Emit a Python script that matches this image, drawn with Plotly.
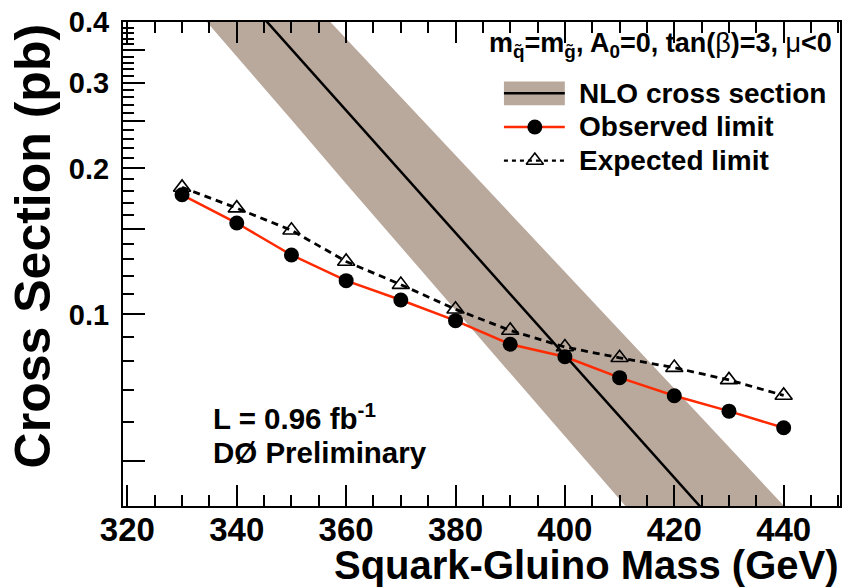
import numpy as np
import plotly.graph_objects as go

# Squark-gluino mass points (GeV)
mass = [330, 340, 350, 360, 370, 380, 390, 400, 410, 420, 430, 440]
observed = [0.1764, 0.1543, 0.1326, 0.1174, 0.1071, 0.0971, 0.0868, 0.0818, 0.0741, 0.0680, 0.0632, 0.0584]
expected = [0.1827, 0.1656, 0.1491, 0.1286, 0.1152, 0.1025, 0.0927, 0.0857, 0.0814, 0.0777, 0.0733, 0.0681]

# NLO theory prediction with its uncertainty band
nlo_mass = [320, 330, 340, 350, 360, 370, 380, 390, 400, 410, 420, 430, 440, 450]
nlo_xsec = [0.841, 0.629, 0.471, 0.352, 0.263, 0.197, 0.147, 0.110, 0.0824, 0.0616, 0.0461, 0.0345, 0.0258, 0.0193]
nlo_high = [1.118, 0.848, 0.643, 0.487, 0.371, 0.281, 0.213, 0.162, 0.1225, 0.0928, 0.0704, 0.0533, 0.0404, 0.0306]
nlo_low = [0.619, 0.458, 0.340, 0.252, 0.186, 0.138, 0.102, 0.0757, 0.0561, 0.0416, 0.0308, 0.0228, 0.0169, 0.0125]

x_major = [320, 340, 360, 380, 400, 420, 440]
x_minor = [v for v in range(320, 451, 5) if v not in x_major]
y_major = [0.05, 0.1, 0.15, 0.2, 0.25, 0.3, 0.35, 0.4]
y_major_text = ["", "0.1", "", "0.2", "", "0.3", "", "0.4"]
y_minor = [round(0.04 + 0.01 * i, 2) for i in range(0, 37)]
y_minor = [v for v in y_minor if v not in y_major]

FONT = "Liberation Sans, Arial, Helvetica, sans-serif"
BAND = "#b9a89c"
RED = "#ff2a00"

fig = go.Figure()

fig.add_trace(go.Scatter(
    x=nlo_mass + nlo_mass[::-1], y=nlo_high + nlo_low[::-1],
    fill="toself", fillcolor=BAND, line=dict(width=0), mode="lines",
    hoverinfo="skip", showlegend=False))
fig.add_trace(go.Scatter(
    x=nlo_mass, y=nlo_xsec, mode="lines",
    line=dict(color="black", width=2.5), showlegend=False))
fig.add_trace(go.Scatter(
    x=mass, y=expected, mode="lines+markers",
    line=dict(color="black", width=2.8, dash="7px,5px"),
    marker=dict(symbol="triangle-up-open", size=15, color="black", line=dict(width=1.6)),
    showlegend=False))
fig.add_trace(go.Scatter(
    x=mass, y=observed, mode="lines+markers",
    line=dict(color=RED, width=2.5),
    marker=dict(symbol="circle", size=15, color="black"),
    showlegend=False))

# Legend glyphs drawn on an overlay axis spanning the plot area (0..1)
lx0, lx1, lxc = 0.5313, 0.6162, 0.5744
ly_nlo, ly_obs, ly_exp = 0.8528, 0.7832, 0.7137
fig.add_shape(type="rect", xref="paper", yref="paper", x0=lx0, x1=lx1,
              y0=0.8282, y1=0.8773, fillcolor=BAND, line=dict(width=0), layer="above")
fig.add_shape(type="line", xref="paper", yref="paper", x0=lx0, x1=lx1,
              y0=ly_nlo, y1=ly_nlo, line=dict(color="black", width=2.5))
fig.add_trace(go.Scatter(
    x=[lx0, lxc, lx1], y=[ly_obs] * 3, xaxis="x2", yaxis="y2", mode="lines",
    line=dict(color=RED, width=2.5), showlegend=False, hoverinfo="skip"))
fig.add_trace(go.Scatter(
    x=[lxc], y=[ly_obs], xaxis="x2", yaxis="y2", mode="markers",
    marker=dict(symbol="circle", size=15, color="black"), showlegend=False, hoverinfo="skip"))
fig.add_trace(go.Scatter(
    x=[lx0, lx1], y=[ly_exp] * 2, xaxis="x2", yaxis="y2", mode="lines",
    line=dict(color="black", width=2.2, dash="4px,4px"), showlegend=False, hoverinfo="skip"))
fig.add_trace(go.Scatter(
    x=[lxc], y=[ly_exp], xaxis="x2", yaxis="y2", mode="markers",
    marker=dict(symbol="triangle-up-open", size=15, color="black", line=dict(width=1.6)),
    showlegend=False, hoverinfo="skip"))

legend_font = dict(family=FONT, size=28, color="black", weight="bold")
for label, yy in [("NLO cross section", ly_nlo), ("Observed limit", ly_obs), ("Expected limit", ly_exp)]:
    fig.add_annotation(xref="paper", yref="paper", x=0.6328, y=yy, text=label,
                       showarrow=False, xanchor="left", yanchor="middle", font=legend_font)

fig.add_annotation(
    xref="paper", yref="paper", x=0.991, y=0.953, xanchor="right", yanchor="middle",
    text="m<sub>q̃</sub>=m<sub>g̃</sub>, A<sub>0</sub>=0, tan(<span style='font-weight:normal'>β</span>)=3, "
         "<span style='font-weight:normal'>μ</span>&lt;0",
    showarrow=False, font=dict(family=FONT, size=27, color="black", weight="bold"))

ann_font = dict(family=FONT, size=29.5, color="black", weight="bold")
fig.add_annotation(xref="paper", yref="paper", x=0.1224, y=0.184, xanchor="left", yanchor="middle",
                   text="L = 0.96 fb<sup>-1</sup>", showarrow=False, font=ann_font)
fig.add_annotation(xref="paper", yref="paper", x=0.1224, y=0.11, xanchor="left", yanchor="middle",
                   text="DØ Preliminary", showarrow=False, font=ann_font)

# Axis titles
fig.add_annotation(xref="paper", yref="paper", x=1.0015, y=-0.1225, xanchor="right", yanchor="middle",
                   text="Squark-Gluino Mass (GeV)", showarrow=False,
                   font=dict(family=FONT, size=40, color="black", weight="bold"))
fig.add_annotation(xref="paper", yref="paper", x=-0.125, y=1.0, xanchor="center", yanchor="top",
                   text="Cross Section (pb)", textangle=-90, showarrow=False,
                   font=dict(family=FONT, size=50, color="black", weight="bold"))

fig.update_layout(
    width=848, height=587,
    margin=dict(l=123, r=6, t=17, b=81),
    paper_bgcolor="white", plot_bgcolor="white",
    showlegend=False,
    xaxis=dict(
        range=[319.2, 450.3], tickmode="array", tickvals=x_major,
        ticks="inside", ticklen=21, tickwidth=1.5, tickcolor="black",
        showline=True, linecolor="black", linewidth=2, mirror="ticks",
        showgrid=False, zeroline=False, ticklabelstandoff=-7,
        tickfont=dict(family=FONT, size=33, color="black", weight="bold"),
        minor=dict(tickmode="array", tickvals=x_minor, ticks="inside", ticklen=11,
                   tickwidth=1.5, tickcolor="black", showgrid=False),
    ),
    yaxis=dict(
        type="log", range=[np.log10(0.0403), np.log10(0.4005)],
        tickmode="array", tickvals=y_major, ticktext=y_major_text,
        ticks="inside", ticklen=22, tickwidth=1.5, tickcolor="black",
        showline=True, linecolor="black", linewidth=2, mirror=True,
        showgrid=False, zeroline=False, ticklabelstandoff=6,
        tickfont=dict(family=FONT, size=29, color="black", weight="bold"),
        minor=dict(tickmode="array", tickvals=y_minor, ticks="inside", ticklen=11,
                   tickwidth=1.5, tickcolor="black", showgrid=False),
    ),
    xaxis2=dict(overlaying="x", range=[0, 1], visible=False),
    yaxis2=dict(overlaying="y", range=[0, 1], visible=False),
)

fig.write_html("out.html")
